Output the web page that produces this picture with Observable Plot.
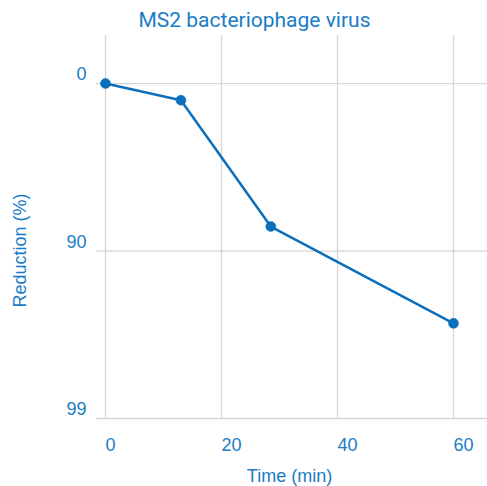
<!DOCTYPE html>
<html>
<head>
<meta charset="utf-8">
<script src="https://cdn.jsdelivr.net/npm/d3@7"></script>
<script src="https://cdn.jsdelivr.net/npm/@observablehq/plot@0.6"></script>
<style>
  html, body { margin: 0; padding: 0; background: #fff; }
  svg { display: block; }
</style>
</head>
<body>
<div id="chart"></div>
<script>
// Data
const timeMin = [0, 13, 28.5, 60];
const reductionPct = [0, 20.5, 86, 96.3];
const xTicks = [0, 20, 40, 60];
const yTickLabels = [0, 90, 99];
const title = "MS2 bacteriophage virus";
const xLabel = "Time (min)";
const yLabel = "Reduction (%)";

const toLog = p => -Math.log10(1 - p / 100);
const points = timeMin.map((t, i) => ({t, r: toLog(reductionPct[i])}));
const yTicks = yTickLabels.map(p => ({p, v: toLog(p)}));

const blue = "#1a7cc6";
const lineBlue = "#0a6fbd";
const grid = "#d6d6d6";

const W = 487, H = 486, mL = 105, mR = 0;
const xMax = 65.86;
const tickLen = 9 * xMax / (W - mL - mR);

const chart = Plot.plot({
  width: W,
  height: H,
  marginTop: 35,
  marginBottom: 68,
  marginLeft: mL,
  marginRight: mR,
  x: {type: "linear", domain: [0, xMax], axis: null},
  y: {type: "linear", domain: [-0.287, 2], reverse: true, axis: null},
  style: {fontFamily: "'Liberation Sans', Arial, sans-serif", background: "#fff"},
  marks: [
    // vertical grid
    Plot.ruleX(xTicks, {x: d => d, stroke: grid, strokeWidth: 1.3}),
    // horizontal grid with small left tick
    Plot.ruleY(yTicks, {y: "v", x1: -tickLen, x2: xMax, stroke: grid, strokeWidth: 1.3}),
    // y tick labels
    Plot.text(yTicks, {y: "v", x: 0, text: d => String(d.p), textAnchor: "end", dx: -19, dy: -9, fill: blue, fontSize: 18}),
    // x tick labels
    Plot.text(xTicks, {x: d => d, y: 2, text: d => String(d), textAnchor: "start", dx: 0, dy: 27, fill: blue, fontSize: 18}),
    // data
    Plot.line(points, {x: "t", y: "r", stroke: lineBlue, strokeWidth: 2.5}),
    Plot.dot(points, {x: "t", y: "r", r: 5, fill: lineBlue, stroke: lineBlue, strokeWidth: 0.5}),
    // axis labels
    Plot.text([xLabel], {frameAnchor: "bottom", textAnchor: "middle", dx: -7, dy: 63, text: d => d, fill: blue, fontSize: 18}),
    Plot.text([yLabel], {frameAnchor: "left", textAnchor: "middle", dx: -85, dy: 23.5, rotate: -90, text: d => d, fill: blue, fontSize: 18}),
    // title
    Plot.text([title], {frameAnchor: "top", textAnchor: "middle", dx: -42, dy: -23, text: d => d, fill: blue, fontSize: 21, fontFamily: "Roboto, sans-serif"})
  ]
});
document.getElementById("chart").appendChild(chart);
</script>
</body>
</html>
